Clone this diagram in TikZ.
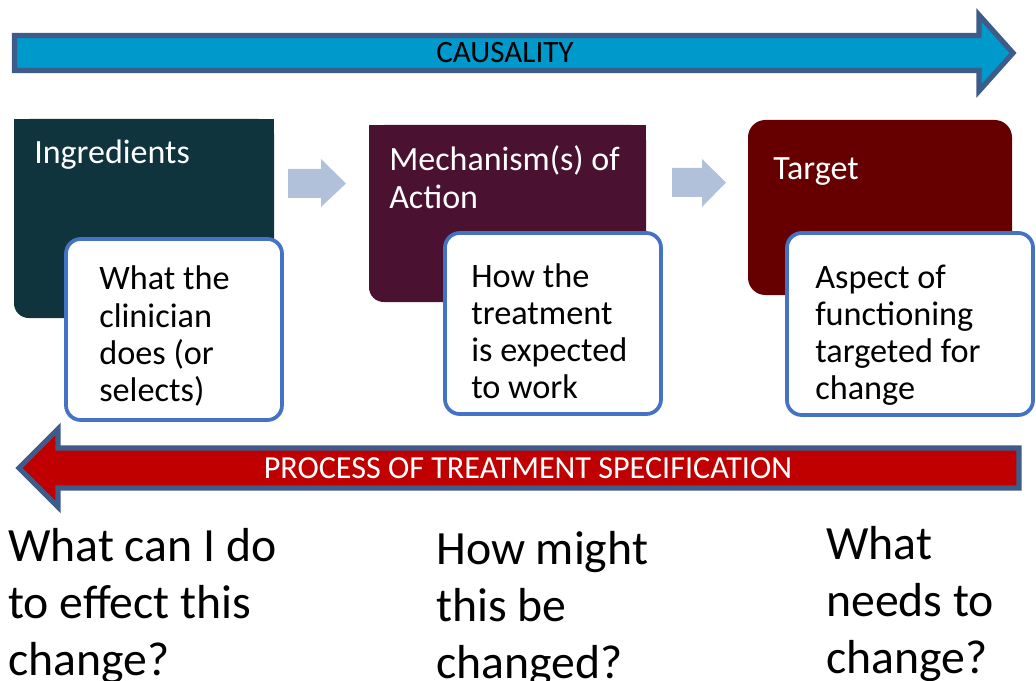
\documentclass[tikz,border=0pt]{standalone}
\usepackage{fontspec}
\setmainfont{Carlito}
\definecolor{cTeal}{HTML}{0F343E}
\definecolor{cPlum}{HTML}{4B1130}
\definecolor{cMaroon}{HTML}{660000}
\definecolor{cFrame}{HTML}{4472C4}
\definecolor{cStep}{HTML}{B0C1D9}
\definecolor{cCaus}{HTML}{0099CC}
\definecolor{cSpec}{HTML}{C00000}
\definecolor{cEdge}{HTML}{3D5C8A}
\newcommand\stacklines[2]{\vtop{\baselineskip=#1\relax\lineskiplimit=-\maxdimen\halign{##\hfil\cr#2\crcr}}}
\tikzset{
  bigarrow/.style={draw=cEdge, line width=3.9pt, line join=miter},
  stepshape/.style={fill=cStep},
  whitebox/.style={draw=cFrame, fill=white, line width=2.8pt, rounded corners=11pt},
  headtext/.style={anchor=base west, inner sep=0pt, text=white, font=\fontsize{25.5}{28}\selectfont},
  boxtext/.style={anchor=base west, inner sep=0pt, text=black, font=\fontsize{25.7}{28}\selectfont},
  qtext/.style={anchor=base west, inner sep=0pt, text=black, font=\fontsize{35.8}{42.75}\selectfont},
  arrowtext/.style={inner sep=0pt, font=\fontsize{23.3}{28}\selectfont},
}
\begin{document}
\begin{tikzpicture}[x=0.75pt, y=-0.75pt]
\useasboundingbox (0,0) rectangle (1036,681);

% causality arrow
\draw[bigarrow, fill=cCaus] (14.5,35.5) -- (979,35.5) -- (979,15) -- (1013,53) -- (979,91) -- (979,70.5) -- (14.5,70.5) -- cycle;
\node[arrowtext, text=black] (causality) at (505,53) {CAUSALITY};

% dark boxes
\fill[cTeal, rounded corners=11pt] (14,119) rectangle (274,318);
\fill[cTeal] (14,119) rectangle (274,200);
\fill[cPlum, rounded corners=11pt] (369,125) rectangle (646,302);
\fill[cPlum] (369,125) rectangle (646,200);
\fill[cMaroon, rounded corners=13pt] (748,120) rectangle (1012,295);

\node[headtext] (ingr) at (34,164) {Ingredients};
\node[headtext] (mech) at (389,171) {\stacklines{28.5pt}{Mechanism(s) of\cr Action}};
\node[headtext] (targ) at (773,180) {Target};

% step arrows
\fill[stepshape] (288,169) -- (321,169) -- (321,159) -- (346,183.5) -- (321,207) -- (321,198) -- (288,198) -- cycle;
\fill[stepshape] (672,168) -- (702,168) -- (702,159) -- (726,182.5) -- (702,207) -- (702,197) -- (672,197) -- cycle;

% white boxes
\draw[whitebox] (66,239) rectangle (282,420);
\draw[whitebox] (445,233) rectangle (661,414);
\draw[whitebox] (787,233) rectangle (1033,415);

\node[boxtext] (what) at (99,290) {\stacklines{28pt}{What the\cr clinician\cr does (or\cr selects)}};
\node[boxtext] (how) at (471,287) {\stacklines{28pt}{How the\cr treatment\cr is expected\cr to work}};
\node[boxtext] (aspect) at (815,288) {\stacklines{28pt}{Aspect of\cr functioning\cr targeted for\cr change}};

% specification arrow
\draw[bigarrow, fill=cSpec] (1019,448) -- (58,448) -- (58,429) -- (19,468) -- (58,507) -- (58,488) -- (1019,488) -- cycle;
\node[arrowtext, text=white, font=\fontsize{24.1}{28}\selectfont] (spec) at (528,468) {PROCESS OF TREATMENT SPECIFICATION};

% questions
\node[qtext] (q1) at (8,561) {\stacklines{42.75pt}{What can I do\cr to effect this\cr change?}};
\node[qtext] (q2) at (436,564) {\stacklines{42.75pt}{How might\cr this be\cr changed?}};
\node[qtext] (q3) at (826,559) {\stacklines{42.75pt}{What\cr needs to\cr change?}};
\end{tikzpicture}
\end{document}
